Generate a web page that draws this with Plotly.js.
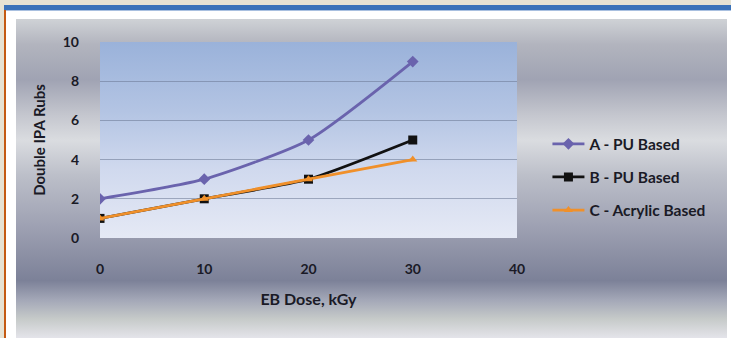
<!DOCTYPE html>
<html><head><meta charset="utf-8">
<script src="https://cdn.plot.ly/plotly-3.0.1.min.js"></script>
<style>
html,body{margin:0;padding:0;width:731px;height:338px;overflow:hidden;background:#fff;position:relative;font-family:Lato,sans-serif}
#beige{position:absolute;left:0;top:0;width:731px;height:5px;background:#e6e2d3}
#beigeL{position:absolute;left:0;top:0;width:4px;height:338px;background:#e6e2d3}
#blue{position:absolute;left:4px;top:5px;width:727px;height:5px;background:#3a72b9}
#blueline{position:absolute;left:4px;top:10px;width:727px;height:1px;background:#a9c0e0}
#orange{position:absolute;left:4px;top:10px;width:2px;height:328px;background:#c45a12}
#bg{position:absolute;left:16px;top:19px;width:711px;height:319px;
 background:linear-gradient(to bottom,#cfd2d6 0%,#b2b4be 8%,#a0a3b3 19%,#c4c6ce 30%,#dadce0 38%,#bcbfc9 49%,#9c9fb1 66%,#7c8198 82%,#a3a7b7 88%,#c6cac9 94%,#e4e4ea 100%)}
#pa{position:absolute;left:100px;top:42px;width:417px;height:196px;
 background:linear-gradient(to bottom,#9ab2da 0%,#b3c4e3 35%,#d0d9ee 65%,#e5e9f5 100%)}
#chart{position:absolute;left:0;top:0;width:731px;height:338px}
</style></head>
<body>
<div id="beige"></div><div id="beigeL"></div><div id="blue"></div><div id="blueline"></div><div id="orange"></div>
<div id="bg"></div><div id="pa"></div>
<div id="chart"></div>
<script>
const doses = [0, 10, 20, 30];
const seriesA = [2, 3, 5, 9];
const seriesB = [1, 2, 3, 5];
const seriesC = [1, 2, 3, 4];
const names = ["A - PU Based", "B - PU Based", "C - Acrylic Based"];
const xTicks = [0, 10, 20, 30, 40];
const yTicks = [0, 2, 4, 6, 8, 10];

const fam = "Lato, 'Liberation Sans', sans-serif";
const ink = "#1a1a26";
function tr(y, name, color, symbol, size, grp) {
  return {x: doses, y: y, name: name, type: "scatter", mode: "lines+markers",
    line: {color: color, width: 2.8, shape: "spline", smoothing: 0.6},
    marker: {symbol: symbol, size: size, color: color},
    legendgroup: grp};
}
const data = [
  tr(seriesA, names[0], "#6a63ad", "diamond", 9, "a"),
  tr(seriesB, names[1], "#111111", "square", 9, "b"),
  tr(seriesC, names[2], "#f0902a", "triangle-up", 8, "c")
];
const layout = {
  width: 731, height: 338,
  margin: {l: 100, r: 214, t: 42, b: 100, autoexpand: false},
  paper_bgcolor: "rgba(0,0,0,0)", plot_bgcolor: "rgba(0,0,0,0)",
  font: {family: fam, color: ink},
  showlegend: true,
  legend: {x: 1.073, xanchor: "left", xref: "paper", y: 0.31, yanchor: "middle",
    bgcolor: "rgba(0,0,0,0)", itemwidth: 32, tracegroupgap: 10,
    font: {family: fam, size: 15.5, color: ink, weight: "bold"}},
  xaxis: {range: [0, 40], tickvals: xTicks, ticktext: xTicks.map(String),
    showgrid: false, zeroline: false, showline: false, ticks: "",
    ticklabelstandoff: 21,
    tickfont: {family: fam, size: 14, color: ink, weight: "bold"},
    title: {text: "EB Dose, kGy", standoff: 17,
      font: {family: fam, size: 16, color: ink, weight: "bold"}}},
  yaxis: {range: [0, 10], tickvals: yTicks, ticktext: yTicks.map(String),
    showgrid: true, gridcolor: "rgba(105,118,145,0.55)", gridwidth: 1,
    zeroline: false, showline: false, ticks: "",
    ticklabelstandoff: 20,
    tickfont: {family: fam, size: 14, color: ink, weight: "bold"},
    title: {text: "Double IPA Rubs", standoff: 13,
      font: {family: fam, size: 15, color: ink, weight: "bold"}}}
};
Plotly.newPlot("chart", data, layout, {displayModeBar: false, staticPlot: true});
</script>
</body></html>
